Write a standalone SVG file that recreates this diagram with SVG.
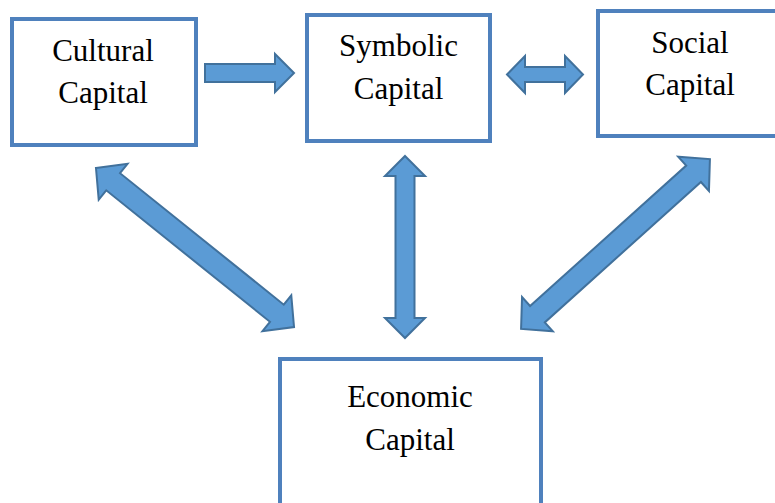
<svg xmlns="http://www.w3.org/2000/svg" width="775" height="503" viewBox="0 0 775 503">
  <style>
    .box { fill: #ffffff; stroke: #4f81bd; stroke-width: 4; }
    .label { font-size: 31px; fill: #000000; text-anchor: middle; }
    .arrow { fill: #5b9bd5; stroke: #41719c; stroke-width: 2; stroke-linejoin: miter; }
  </style>
  <rect width="775" height="503" fill="#ffffff"/>

  <g font-family="Liberation Serif, Times New Roman, DejaVu Serif, serif">
    <g id="cultural">
      <rect class="box" x="12" y="19" width="184" height="126"/>
      <text class="label" x="103" y="61">Cultural</text>
      <text class="label" x="103" y="103">Capital</text>
    </g>

    <g id="symbolic">
      <rect class="box" x="307" y="15" width="183" height="126"/>
      <text class="label" x="398.5" y="56">Symbolic</text>
      <text class="label" x="398.5" y="99">Capital</text>
    </g>

    <g id="social">
      <rect class="box" x="598" y="11" width="200" height="125"/>
      <text class="label" x="690" y="53">Social</text>
      <text class="label" x="690" y="95">Capital</text>
    </g>

    <g id="economic">
      <rect class="box" x="280" y="359" width="261" height="170"/>
      <text class="label" x="410" y="407">Economic</text>
      <text class="label" x="410" y="450">Capital</text>
    </g>
  </g>

  <g id="connectors">
    <!-- cultural to symbolic -->
    <path class="arrow" d="M205 64 L275 64 L275 54 L294 73 L275 92 L275 82 L205 82 Z"/>
    <!-- symbolic to social, both ways -->
    <path class="arrow" transform="translate(545 74.5)" d="M-38 0 L-20 -18.5 L-20 -7.5 L20 -7.5 L20 -18.5 L38 0 L20 18.5 L20 7.5 L-20 7.5 L-20 18.5 Z"/>
    <!-- symbolic to economic, both ways -->
    <path class="arrow" transform="translate(405 247) rotate(90)" d="M-91 0 L-71 -20 L-71 -9.5 L71 -9.5 L71 -20 L91 0 L71 20 L71 9.5 L-71 9.5 L-71 20 Z"/>
    <!-- cultural to economic, both ways -->
    <path class="arrow" transform="translate(195 247.5) rotate(38.76)" d="M-127 0 L-105 -23 L-105 -11 L105 -11 L105 -23 L127 0 L105 23 L105 11 L-105 11 L-105 23 Z"/>
    <!-- social to economic, both ways -->
    <path class="arrow" transform="translate(615.5 244) rotate(-41.97)" d="M-127 0 L-105 -23 L-105 -11 L105 -11 L105 -23 L127 0 L105 23 L105 11 L-105 11 L-105 23 Z"/>
  </g>
</svg>
